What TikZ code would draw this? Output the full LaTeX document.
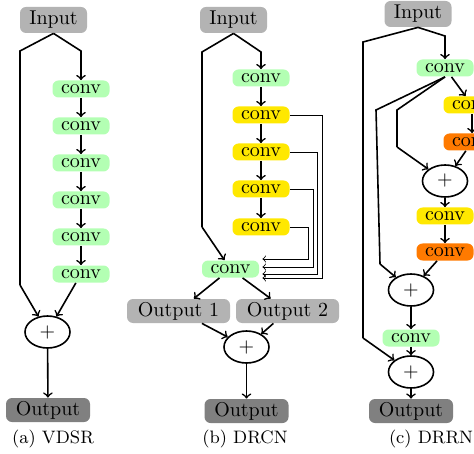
\documentclass[tikz,border=0pt]{standalone}
\usetikzlibrary{shapes.geometric}
\definecolor{cgreen}{HTML}{B3FFB3}
\definecolor{cyel}{HTML}{FFE800}
\definecolor{corange}{HTML}{FF7A00}
\definecolor{cin}{HTML}{B3B3B3}
\definecolor{cout}{HTML}{808080}
\tikzset{
  boxbase/.style={rounded corners=3pt, inner sep=0pt, minimum height=8.5pt, minimum width=28.5pt},
  gconv/.style={boxbase, fill=cgreen},
  yconv/.style={boxbase, fill=cyel},
  oconv/.style={boxbase, fill=corange},
  inbox/.style={rounded corners=3pt, inner sep=0pt, minimum height=13pt, minimum width=33.5pt, fill=cin},
  outbox/.style={rounded corners=3pt, inner sep=0pt, minimum height=12pt, minimum width=42pt, fill=cout},
  outsub/.style={rounded corners=3pt, inner sep=0pt, minimum height=12pt, minimum width=51.5pt, fill=cin},
  plus/.style={ellipse, draw, thick, inner sep=0pt, minimum width=22.5pt, minimum height=16pt},
  link/.style={thick},
  arr/.style={thick, ->},
  tarr/.style={thin, ->},
  captext/.style={font=\small}
}
\begin{document}
\begin{tikzpicture}[x=0.5pt, y=-0.5pt]
\useasboundingbox (0,0) rectangle (474,453);
% (a) VDSR
\node[inbox] (aIn) at (53.5,20) {Input};
\coordinate (aL) at (20,51);
\coordinate (aR) at (81,51);
\coordinate (aL2) at (20,285);
\node[gconv] (ac1) at (81,89) {conv};
\node[gconv] (ac2) at (81,126) {conv};
\node[gconv] (ac3) at (81,163) {conv};
\node[gconv] (ac4) at (81,200) {conv};
\node[gconv] (ac5) at (81,237) {conv};
\node[gconv] (ac6) at (81,274) {conv};
\node[plus] (aP) at (47.5,332) {$+$};
\node[outbox] (aOut) at (48,410) {Output};
\node[captext] (aCap) at (53,439) {(a) VDSR};
\draw[link] (aIn.south) -- (aL) -- (aL2);
\draw[arr] (aL2) -- (aP);
\draw[arr] (aIn.south) -- (aR) -- (ac1.north);
\draw[arr] (ac1) -- (ac2);
\draw[arr] (ac2) -- (ac3);
\draw[arr] (ac3) -- (ac4);
\draw[arr] (ac4) -- (ac5);
\draw[arr] (ac5) -- (ac6);
\draw[arr] (ac6) -- (aP);
\draw[arr] (aP) -- (aOut);
% (b) DRCN
\node[inbox] (bIn) at (233.5,20) {Input};
\coordinate (bL) at (202,52);
\coordinate (bR) at (261,52);
\coordinate (bL2) at (202,227);
\node[gconv] (bc1) at (261,78) {conv};
\node[yconv] (by1) at (261,115) {conv};
\node[yconv] (by2) at (261,152) {conv};
\node[yconv] (by3) at (261,189) {conv};
\node[yconv] (by4) at (261,227) {conv};
\node[gconv] (bc2) at (230.5,269) {conv};
\node[outsub] (bO1) at (178.5,311) {Output 1};
\node[outsub] (bO2) at (287.5,311) {Output 2};
\node[plus] (bP) at (246.5,347) {$+$};
\node[outbox] (bOut) at (246.5,411) {Output};
\node[captext] (bCap) at (245,439) {(b) DRCN};
\draw[link] (bIn.south) -- (bL) -- (bL2);
\draw[arr] (bL2) -- (bc2);
\draw[arr] (bIn.south) -- (bR) -- (bc1.north);
\draw[arr] (bc1) -- (by1);
\draw[arr] (by1) -- (by2);
\draw[arr] (by2) -- (by3);
\draw[arr] (by3) -- (by4);
\coordinate (bx1) at (322,115);
\coordinate (bx2) at (317,152);
\coordinate (bx3) at (313,189);
\coordinate (bx4) at (308,227);
\draw[tarr] (by1.east) -- (bx1) |- ([xshift=1.5pt,yshift=-4.5pt]bc2.east);
\draw[tarr] (by2.east) -- (bx2) |- ([xshift=1.5pt,yshift=-2.5pt]bc2.east);
\draw[tarr] (by3.east) -- (bx3) |- ([xshift=1.5pt,yshift=1pt]bc2.east);
\draw[tarr] (by4.east) -- (bx4) |- ([xshift=1.5pt,yshift=5pt]bc2.east);
\draw[arr] (bc2) -- (bO1);
\draw[arr] (bc2) -- (bO2);
\draw[arr] (bO1) -- (bP);
\draw[arr] (bO2) -- (bP);
\draw[arr] (bP) -- (bOut);
% (c) DRRN
\node[inbox] (cIn) at (418,14) {Input};
\coordinate (cL) at (363,42);
\coordinate (cR) at (445,36);
\coordinate (cL2) at (363,338);
\node[gconv] (cc1) at (445,68) {conv};
\node[yconv] (cy1) at (472,105) {conv};
\node[oconv] (co1) at (472,142) {conv};
\node[plus] (cP1) at (445,181) {$+$};
\node[yconv] (cy2) at (445,216) {conv};
\node[oconv] (co2) at (445,252) {conv};
\node[plus] (cP2) at (411,290) {$+$};
\node[gconv] (cc3) at (411,338) {conv};
\node[plus] (cP3) at (411,372) {$+$};
\node[outbox] (cOut) at (411,411) {Output};
\node[captext] (cCap) at (431,439) {(c) DRRN};
\coordinate (cA) at (376,110);
\coordinate (cA2) at (380,264);
\coordinate (cB) at (397,110);
\coordinate (cB2) at (397,147);
\draw[link] (cIn.south) -- (cL) -- (cL2);
\draw[arr] (cL2) -- (cP3);
\draw[arr] (cIn.south) -- (cR) -- (cc1.north);
\draw[link] (cc1.south) -- (cA) -- (cA2);
\draw[arr] (cA2) -- (cP2);
\draw[link] (cc1.south) -- (cB) -- (cB2);
\draw[arr] (cB2) -- (cP1);
\draw[arr] (cc1) -- (cy1);
\draw[arr] (cy1) -- (co1);
\draw[arr] (co1) -- (cP1);
\draw[arr] (cP1) -- (cy2);
\draw[arr] (cy2) -- (co2);
\draw[arr] (co2) -- (cP2);
\draw[arr] (cP2) -- (cc3);
\draw[arr] (cc3) -- (cP3);
\draw[arr] (cP3) -- (cOut);
\end{tikzpicture}
\end{document}
